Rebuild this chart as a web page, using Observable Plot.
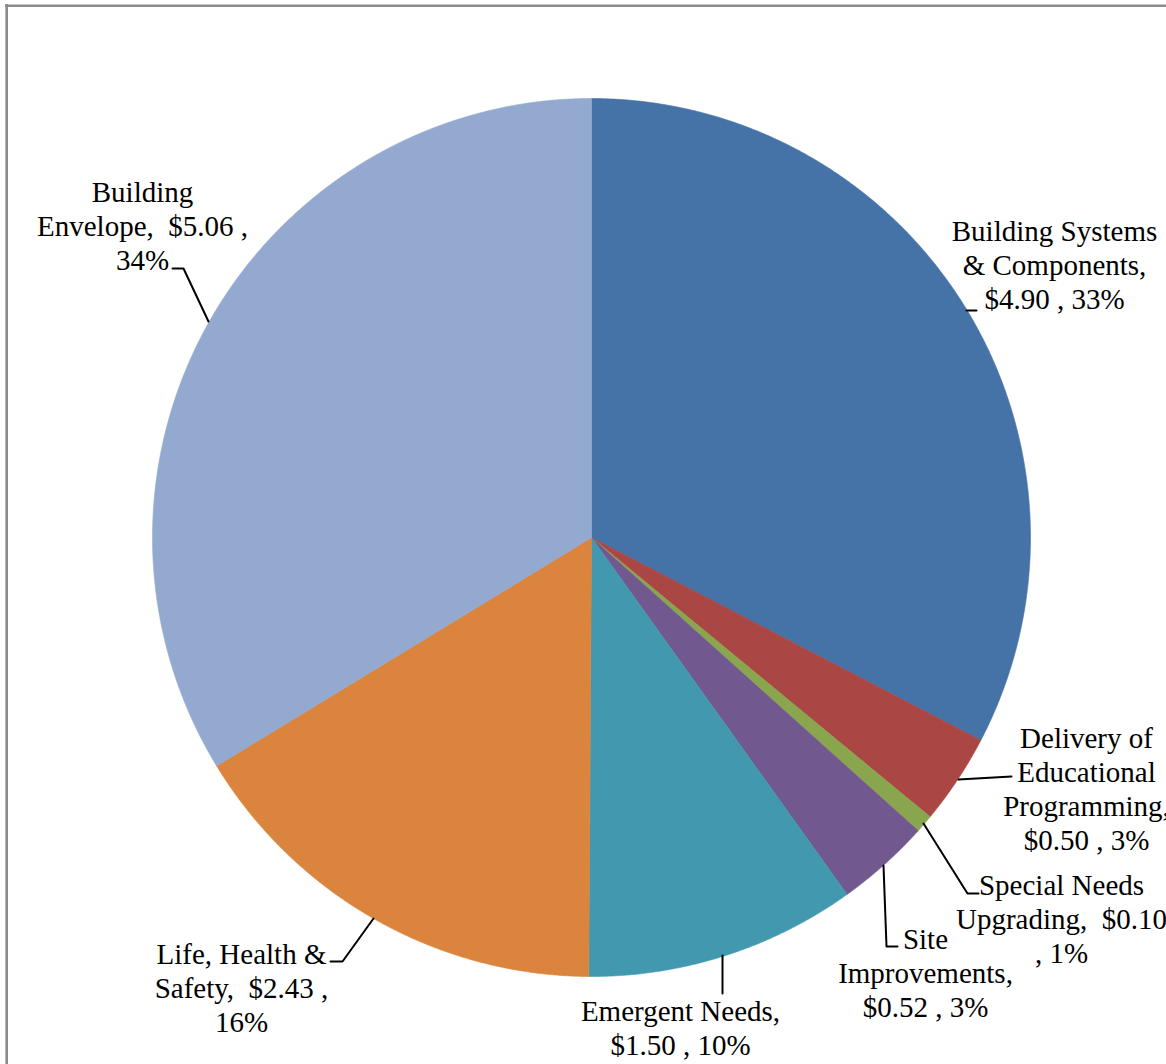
<!DOCTYPE html>
<html>
<head>
<meta charset="utf-8">
<script src="https://cdn.jsdelivr.net/npm/d3@7"></script>
<script src="https://cdn.jsdelivr.net/npm/@observablehq/plot@0.6"></script>
<style>
  html, body { margin: 0; padding: 0; background: #fff; }
  #chart svg { display: block; }
</style>
</head>
<body>
<div id="chart"></div>
<script>
// ---- Data ----
const categories = [
  "Building Systems & Components",
  "Delivery of Educational Programming",
  "Special Needs Upgrading",
  "Site Improvements",
  "Emergent Needs",
  "Life, Health & Safety",
  "Building Envelope"
];
const values = [4.90, 0.50, 0.10, 0.52, 1.50, 2.43, 5.06];
const percents = ["33%", "3%", "1%", "3%", "10%", "16%", "34%"];
const colors = ["#4572a7", "#aa4643", "#89a54e", "#71588f", "#4198af", "#db843d", "#93a9cf"];

// label line layout (text only)
const labelLines = [
  (v, p) => ["Building Systems", "& Components,", `$${v} , ${p}`],
  (v, p) => ["Delivery of", "Educational", "Programming,", `$${v} , ${p}`],
  (v, p) => ["Special Needs", `Upgrading,\u00a0 $${v}`, `, ${p}`],
  (v, p) => ["Site", "Improvements,", `$${v} , ${p}`],
  (v, p) => ["Emergent Needs,", `$${v} , ${p}`],
  (v, p) => ["Life, Health &", `Safety,\u00a0 $${v} ,`, p],
  (v, p) => ["Building", `Envelope,\u00a0 $${v} ,`, p]
];

// ---- Layout (pixel frame) ----
const W = 1166, H = 1064;
const cx = 591, cy = 537, R = 439;
const labelPos = [
  {x: 1054, y: 264},
  {x: 1086, y: 788},
  {x: 1061, y: 918},
  {x: 925, y: 972},
  {x: 680, y: 1027},
  {x: 241, y: 987},
  {x: 142, y: 225}
];
// leader polylines (from label end to slice edge)
const leaders = [
  [[966, 310], [976, 310]],
  [[1011, 776], [958, 779]],
  [[978, 893], [967, 893], [923, 823]],
  [[897, 946], [886, 946], [883, 865]],
  [[722, 993], [722, 955]],
  [[330, 961], [342, 961], [373, 918]],
  [[172, 268], [183, 268], [208, 321]]
];

// ---- Pie geometry from values ----
const arcs = d3.pie().sort(null).value(d => d).startAngle(0).endAngle(2 * Math.PI)(values);
const slicePts = [];
arcs.forEach((a, i) => {
  const cat = categories[i];
  slicePts.push({cat, x: cx, y: cy});
  const n = Math.max(4, Math.ceil((a.endAngle - a.startAngle) / (Math.PI / 720)));
  for (let k = 0; k <= n; k++) {
    const t = a.startAngle + (a.endAngle - a.startAngle) * k / n;
    slicePts.push({cat, x: cx + R * Math.sin(t), y: cy - R * Math.cos(t)});
  }
  slicePts.push({cat, x: cx, y: cy});
});

const labels = categories.map((c, i) => ({
  cat: c,
  x: labelPos[i].x,
  y: labelPos[i].y,
  text: labelLines[i](values[i].toFixed(2), percents[i]).join("\n")
}));

const leaderPts = leaders.flatMap((pts, i) => pts.map(([x, y]) => ({k: i, x, y})));

const chart = Plot.plot({
  width: W,
  height: H,
  margin: 0,
  x: {domain: [0, W], range: [0, W], axis: null},
  y: {domain: [0, H], range: [0, H], axis: null},
  color: {domain: categories, range: colors},
  style: {background: "#fff"},
  marks: [
    Plot.ruleX([6.2], {y1: 4, y2: H, stroke: "#8b8b8b", strokeWidth: 2.6}),
    Plot.ruleY([5.2], {x1: 5, x2: W, stroke: "#8b8b8b", strokeWidth: 2.6}),
    Plot.line(slicePts, {x: "x", y: "y", z: "cat", fill: "cat", stroke: "cat", strokeWidth: 0.6, curve: "linear"}),
    Plot.line(leaderPts, {x: "x", y: "y", z: "k", stroke: "#000", strokeWidth: 2}),
    Plot.text(labels, {
      x: "x", y: "y", text: "text",
      fontSize: 29, lineHeight: 1.17,
      fontFamily: "'Liberation Serif', 'Times New Roman', serif",
      fill: "#000", textAnchor: "middle", lineAnchor: "middle"
    })
  ]
});
document.getElementById("chart").appendChild(chart);
</script>
</body>
</html>
